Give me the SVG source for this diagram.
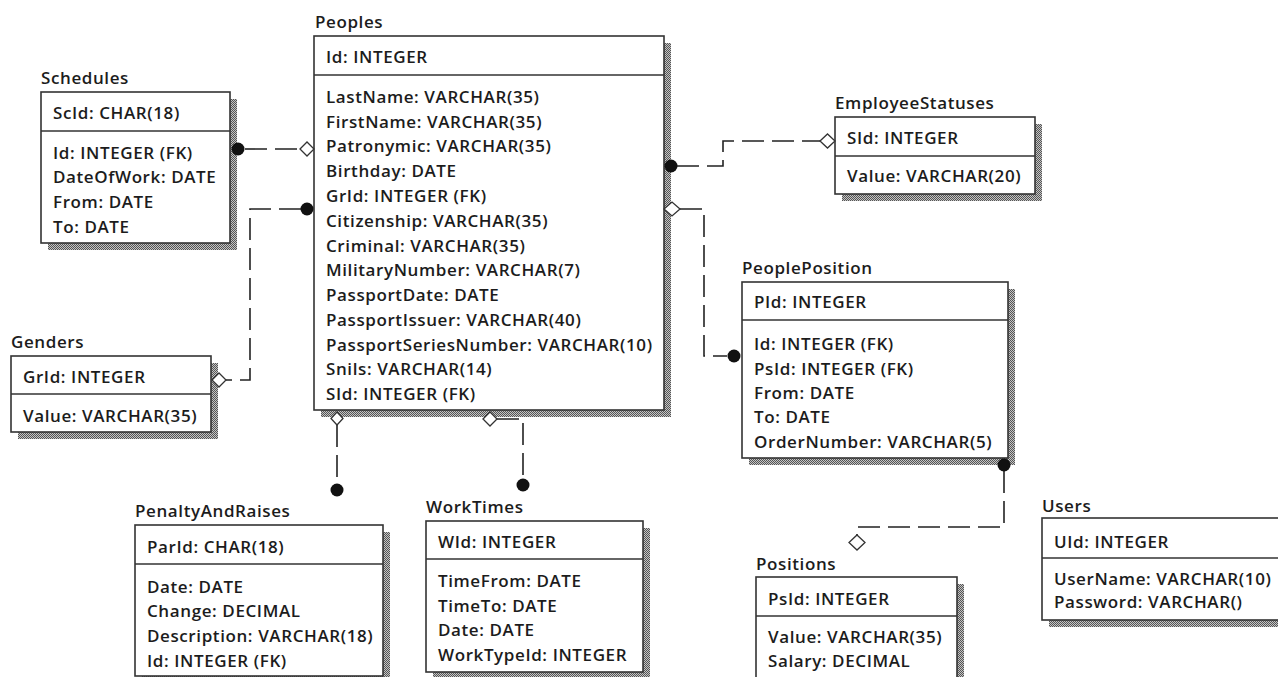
<svg xmlns="http://www.w3.org/2000/svg" width="1278" height="677" viewBox="0 0 1278 677">
  <defs>
    <!-- stippled drop shadow used behind every table -->
    <pattern id="stipple" width="2" height="2" patternUnits="userSpaceOnUse">
      <rect width="2" height="2" fill="#c4c4c4"/>
      <rect width="1" height="1" fill="#555"/>
      <rect x="1" y="1" width="1" height="1" fill="#555"/>
    </pattern>
  </defs>
  <style>
    text { font-family: "Open Sans", "Liberation Sans", sans-serif; font-weight: 600; font-size: 17px; letter-spacing: 0.6px; fill: #1c1c1c; }
    .shadow { fill: url(#stipple); }
    .box { fill: #fff; stroke: #333; stroke-width: 1.6; }
    .div { stroke: #333; stroke-width: 1.6; }
    .rel { fill: none; stroke: #222; stroke-width: 1.6; stroke-dasharray: 22 8; }
    .dot { fill: #111; }
    .dia { fill: #fff; stroke: #333; stroke-width: 1.3; }
  </style>
  <rect width="1278" height="677" fill="#fff"/>

  <!-- Schedules -->
  <g id="schedules">
    <rect class="shadow" x="48" y="99" width="189" height="151"/>
    <rect class="box" x="41" y="92" width="189" height="151"/>
    <line class="div" x1="41" y1="131" x2="230" y2="131"/>
    <text x="41" y="84">Schedules</text>
    <text x="53" y="119">ScId: CHAR(18)</text>
    <text x="53" y="159">Id: INTEGER (FK)</text>
    <text x="53" y="183">DateOfWork: DATE</text>
    <text x="53" y="208">From: DATE</text>
    <text x="53" y="233">To: DATE</text>
  </g>

  <!-- Peoples -->
  <g id="peoples">
    <rect class="shadow" x="321" y="43" width="350" height="374"/>
    <rect class="box" x="314" y="36" width="350" height="374"/>
    <line class="div" x1="314" y1="75" x2="664" y2="75"/>
    <text x="315" y="28">Peoples</text>
    <text x="326" y="63">Id: INTEGER</text>
    <text x="326" y="103">LastName: VARCHAR(35)</text>
    <text x="326" y="128">FirstName: VARCHAR(35)</text>
    <text x="326" y="152">Patronymic: VARCHAR(35)</text>
    <text x="326" y="177">Birthday: DATE</text>
    <text x="326" y="202">GrId: INTEGER (FK)</text>
    <text x="326" y="227">Citizenship: VARCHAR(35)</text>
    <text x="326" y="252">Criminal: VARCHAR(35)</text>
    <text x="326" y="276">MilitaryNumber: VARCHAR(7)</text>
    <text x="326" y="301">PassportDate: DATE</text>
    <text x="326" y="326">PassportIssuer: VARCHAR(40)</text>
    <text x="326" y="351">PassportSeriesNumber: VARCHAR(10)</text>
    <text x="326" y="375">Snils: VARCHAR(14)</text>
    <text x="326" y="400">SId: INTEGER (FK)</text>
  </g>

  <!-- EmployeeStatuses -->
  <g id="employee-statuses">
    <rect class="shadow" x="842" y="124" width="200" height="77"/>
    <rect class="box" x="835" y="117" width="200" height="77"/>
    <line class="div" x1="835" y1="156" x2="1035" y2="156"/>
    <text x="835" y="109">EmployeeStatuses</text>
    <text x="847" y="144">SId: INTEGER</text>
    <text x="847" y="182">Value: VARCHAR(20)</text>
  </g>

  <!-- Genders -->
  <g id="genders">
    <rect class="shadow" x="18" y="363" width="200" height="76"/>
    <rect class="box" x="11" y="356" width="200" height="76"/>
    <line class="div" x1="11" y1="394" x2="211" y2="394"/>
    <text x="11" y="348">Genders</text>
    <text x="23" y="383">GrId: INTEGER</text>
    <text x="23" y="422">Value: VARCHAR(35)</text>
  </g>

  <!-- PeoplePosition -->
  <g id="people-position">
    <rect class="shadow" x="749" y="289" width="266" height="176"/>
    <rect class="box" x="742" y="282" width="266" height="176"/>
    <line class="div" x1="742" y1="320" x2="1008" y2="320"/>
    <text x="742" y="274">PeoplePosition</text>
    <text x="754" y="308">PId: INTEGER</text>
    <text x="754" y="350">Id: INTEGER (FK)</text>
    <text x="754" y="375">PsId: INTEGER (FK)</text>
    <text x="754" y="399">From: DATE</text>
    <text x="754" y="423">To: DATE</text>
    <text x="754" y="448">OrderNumber: VARCHAR(5)</text>
  </g>

  <!-- PenaltyAndRaises -->
  <g id="penalty-and-raises">
    <rect class="shadow" x="142" y="532" width="248" height="151"/>
    <rect class="box" x="135" y="525" width="248" height="151"/>
    <line class="div" x1="135" y1="564" x2="383" y2="564"/>
    <text x="135" y="517">PenaltyAndRaises</text>
    <text x="147" y="553">ParId: CHAR(18)</text>
    <text x="147" y="593">Date: DATE</text>
    <text x="147" y="617">Change: DECIMAL</text>
    <text x="147" y="642">Description: VARCHAR(18)</text>
    <text x="147" y="667">Id: INTEGER (FK)</text>
  </g>

  <!-- WorkTimes -->
  <g id="work-times">
    <rect class="shadow" x="433" y="528" width="217" height="151"/>
    <rect class="box" x="426" y="521" width="217" height="151"/>
    <line class="div" x1="426" y1="559" x2="643" y2="559"/>
    <text x="426" y="513">WorkTimes</text>
    <text x="438" y="548">WId: INTEGER</text>
    <text x="438" y="587">TimeFrom: DATE</text>
    <text x="438" y="612">TimeTo: DATE</text>
    <text x="438" y="636">Date: DATE</text>
    <text x="438" y="661">WorkTypeId: INTEGER</text>
  </g>

  <!-- Positions -->
  <g id="positions">
    <rect class="shadow" x="763" y="584" width="201" height="120"/>
    <rect class="box" x="756" y="577" width="201" height="120"/>
    <line class="div" x1="756" y1="616" x2="957" y2="616"/>
    <text x="756" y="570">Positions</text>
    <text x="768" y="605">PsId: INTEGER</text>
    <text x="768" y="643">Value: VARCHAR(35)</text>
    <text x="768" y="667">Salary: DECIMAL</text>
  </g>

  <!-- Users -->
  <g id="users">
    <rect class="shadow" x="1049" y="525" width="250" height="102"/>
    <rect class="box" x="1042" y="518" width="250" height="102"/>
    <line class="div" x1="1042" y1="558" x2="1292" y2="558"/>
    <text x="1042" y="512">Users</text>
    <text x="1054" y="548">UId: INTEGER</text>
    <text x="1054" y="585">UserName: VARCHAR(10)</text>
    <text x="1054" y="608">Password: VARCHAR()</text>
  </g>

  <!-- relationships: filled dot on the referencing table, open diamond on the referenced one -->
  <g id="connectors">
    <!-- Schedules -> Peoples -->
    <path class="rel" d="M245,149 H300"/>
    <circle class="dot" cx="238" cy="149" r="6.5"/>
    <polygon class="dia" points="300,149 307,142 314,149 307,156"/>

    <!-- Peoples -> Genders -->
    <path class="rel" d="M301,209 H250 V380 H226"/>
    <circle class="dot" cx="307" cy="209" r="6.5"/>
    <polygon class="dia" points="212,380 219,373 226,380 219,387"/>

    <!-- Peoples -> EmployeeStatuses -->
    <path class="rel" d="M677,166 H723 V141 H820"/>
    <circle class="dot" cx="671" cy="166" r="6.5"/>
    <polygon class="dia" points="820,141 827.5,134 835,141 827.5,148"/>

    <!-- PeoplePosition -> Peoples -->
    <path class="rel" d="M680,209 H704 V356 H727"/>
    <polygon class="dia" points="664,209 672,202 680,209 672,216"/>
    <circle class="dot" cx="734" cy="356" r="6.5"/>

    <!-- PenaltyAndRaises -> Peoples -->
    <path class="rel" d="M337,425 V483"/>
    <polygon class="dia" points="337,412 343,418.5 337,425 331,418.5"/>
    <circle class="dot" cx="337" cy="490" r="6.5"/>

    <!-- WorkTimes -> Peoples -->
    <path class="rel" d="M497,419 H523 V478"/>
    <polygon class="dia" points="483,419 490,412 497,419 490,426"/>
    <circle class="dot" cx="523" cy="485" r="6.5"/>

    <!-- PeoplePosition -> Positions -->
    <path class="rel" d="M1004,471 V527 H857 V535"/>
    <circle class="dot" cx="1004" cy="465" r="6.5"/>
    <polygon class="dia" points="857,535 865,542.5 857,550 849,542.5"/>
  </g>
</svg>
